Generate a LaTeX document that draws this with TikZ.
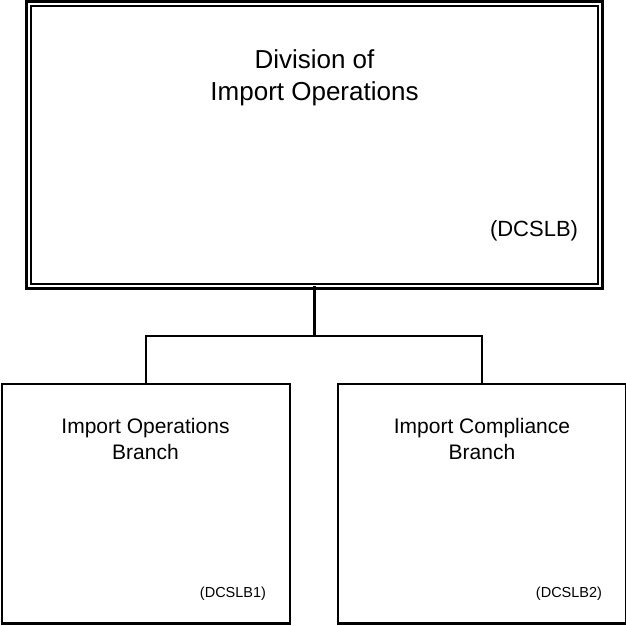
\documentclass[tikz,border=0pt]{standalone}
\usepackage{fontspec}
\setmainfont{Liberation Sans}
\begin{document}
\begin{tikzpicture}[x=1pt,y=-1pt,
  box/.style={draw=black,line width=2.5pt,rectangle,inner sep=0pt,outer sep=0pt,minimum width=288pt,minimum height=239.7pt},
  topbox/.style={draw=black,double=white,line width=2.5pt,double distance=2pt,rectangle,inner sep=0pt,outer sep=0pt,minimum width=571.25pt,minimum height=282.75pt},
  conn/.style={draw=black,line width=2.5pt},
  title/.style={font=\fontsize{26}{32}\selectfont,align=center,inner sep=0pt},
  sub/.style={font=\fontsize{21}{25.7}\selectfont,align=center,inner sep=0pt},
  code/.style={font=\fontsize{22}{26}\selectfont,inner sep=0pt},
  smallcode/.style={font=\fontsize{14.5}{17}\selectfont,inner sep=0pt}]
\useasboundingbox (0,0) rectangle (625,626);
\fill[white] (0,0) rectangle (625,626);
\node[topbox] (top) at (314.4,145.1) {};
\node[box] (left) at (146,503.85) {};
\node[box] (right) at (482,503.85) {};
\coordinate (j) at (314.4,336);
\draw[conn] (top.south) -- (j);
\draw[conn] (left.north) |- (j) -| (right.north);
\node[title,anchor=base] (t1) at (314.5,100) {Division of\\Import Operations};
\node[code,anchor=base] (t2) at (534,236.5) {(DCSLB)};
\node[sub,anchor=base] (l1) at (145.5,459) {Import Operations\\Branch};
\node[sub,anchor=base] (r1) at (482,459) {Import Compliance\\Branch};
\node[smallcode,anchor=base] (l2) at (233,597.5) {(DCSLB1)};
\node[smallcode,anchor=base] (r2) at (569,597.5) {(DCSLB2)};
\end{tikzpicture}
\end{document}
